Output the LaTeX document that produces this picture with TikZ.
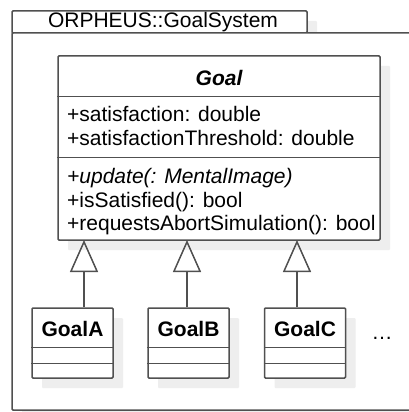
\documentclass[tikz,border=0pt]{standalone}
\usepackage{fontspec}
\setmainfont{Liberation Sans}
\usetikzlibrary{arrows.meta,shadows}

\definecolor{umlline}{HTML}{505050}
\definecolor{umlshade}{HTML}{EEEEEE}
\newcommand{\umlfont}{\fontsize{21}{24}\selectfont}

\tikzset{
	umlbox/.style={draw=umlline, line width=1.5pt, fill=white, rounded corners=1pt, inner sep=0pt,
		drop shadow={shadow xshift=10pt, shadow yshift=-10pt, fill=umlshade, opacity=1}},
	umlsep/.style={draw=umlline, line width=1.5pt},
	member/.style={anchor=base west, inner sep=0pt},
	title/.style={anchor=base, inner sep=0pt},
	inherit/.style={draw=umlline, line width=1.5pt, -{Triangle[open, length=32pt, width=28pt, line width=1.5pt]}},
}

\begin{document}
\begin{tikzpicture}[x=1pt, y=-1pt, font=\umlfont]
	\useasboundingbox (0,0) rectangle (408,412);

	% package
	\node[umlbox, minimum width=295pt, minimum height=22pt] (tab) at (159.5,22) {};
	\node[umlbox, minimum width=420pt, minimum height=377pt] (pkg) at (222,221.5) {};
	\node[anchor=base, inner sep=0pt] (pkgname) at (163,28) {ORPHEUS::GoalSystem};

	% abstract class
	\node[umlbox, minimum width=322pt, minimum height=184pt] (goal) at (219,148) {};
	\node[title] (goalname) at (219,85) {\bfseries\itshape Goal};
	\draw[umlsep] ([yshift=-41pt]goal.north west) -- ([yshift=-41pt]goal.north east);
	\draw[umlsep] ([yshift=-102pt]goal.north west) -- ([yshift=-102pt]goal.north east);
	\node[member] (attr1) at (67,121) {+satisfaction: double};
	\node[member] (attr2) at (67,145) {+satisfactionThreshold: double};
	\node[member] (op1) at (67,183) {\itshape +update(: MentalImage)};
	\node[member] (op2) at (67,207) {+isSatisfied(): bool};
	\node[member] (op3) at (67,230) {+requestsAbortSimulation(): bool};

	% subclasses
	\foreach \name/\x in {A/72.5, B/188.5, C/305} {
		\node[umlbox, minimum width=81pt, minimum height=70pt] (goal\name) at (\x,343) {};
		\node[title] (goal\name text) at (\x,336) {\bfseries Goal\name};
		\draw[umlsep] ([yshift=-40pt]goal\name.north west) -- ([yshift=-40pt]goal\name.north east);
		\draw[umlsep] ([yshift=-56pt]goal\name.north west) -- ([yshift=-56pt]goal\name.north east);
	}
	\node (more) at (382,338) {\dots};

	\coordinate (tA) at (84,240);
	\coordinate (tB) at (187,240);
	\coordinate (tC) at (297,240);
	\draw[inherit] (goalA.north -| tA) -- (tA);
	\draw[inherit] (goalB.north -| tB) -- (tB);
	\draw[inherit] (goalC.north -| tC) -- (tC);
\end{tikzpicture}
\end{document}
